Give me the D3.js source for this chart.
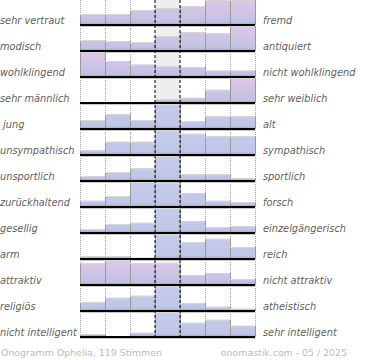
<!DOCTYPE html>
<html>
<head>
<meta charset="utf-8">
<script src="https://cdn.jsdelivr.net/npm/d3@7"></script>
<style>
  body { margin: 0; background: #fff; }
  text { font-family: "DejaVu Sans", sans-serif; white-space: pre; }
</style>
</head>
<body>
<div id="chart"></div>
<script>
// Data (bar height relative to the row maximum).
var leftLabels = ["sehr vertraut", "modisch", "wohlklingend", "sehr männlich", " jung", "unsympathisch",
  "unsportlich", "zurückhaltend", "gesellig", "arm", "attraktiv", "religiös", "nicht intelligent"];
var rightLabels = ["fremd", "antiquiert", "nicht wohlklingend", "sehr weiblich", "alt", "sympathisch",
  "sportlich", "forsch", "einzelgängerisch", "reich", "nicht attraktiv", "atheistisch", "sehr intelligent"];
var values = [
  [44, 44, 60, 68, 76, 100, 100],
  [44, 40, 36, 60, 76, 72, 100],
  [100, 64, 50, 42, 40, 26, 26],
  [4, 0, 0, 15, 21, 53, 100],
  [36, 59, 36, 100, 31, 51, 51],
  [19, 53, 53, 100, 85, 75, 75],
  [19, 36, 51, 100, 27, 27, 11],
  [25, 44, 100, 96, 56, 25, 20],
  [16, 36, 41, 100, 48, 23, 28],
  [11, 11, 5, 100, 68, 81, 48],
  [88, 100, 88, 88, 40, 48, 24],
  [36, 53, 61, 100, 32, 17, 9],
  [12, 0, 17, 100, 57, 69, 45]
];
var footerLeft = "Onogramm Ophelia, 119 Stimmen";
var footerRight = "onomastik.com - 05 / 2025";

// Layout parameters.
var svgWidth = 370;
var svgHeight = 360;
var barMax = 25;

var svg = d3.select("#chart")
  .append("svg")
  .attr("width", svgWidth)
  .attr("height", svgHeight);

var x = d3.scaleBand()
  .domain(d3.range(7))
  .range([80, 255]);

var row = d3.scaleBand()
  .domain(d3.range(leftLabels.length))
  .range([-1, 337]);

var bottom = row.range()[1];
var base = i => row(i) + row.bandwidth();

// Gradients, one per row (pinkish top where the row peaks off-centre).
var defs = svg.append("defs");
values.forEach(function(v, i) {
  var peak = v.indexOf(d3.max(v));
  var pink = peak < 2 || peak > 4;
  var g = defs.append("linearGradient")
    .attr("id", "g" + i)
    .attr("gradientUnits", "userSpaceOnUse")
    .attr("x1", 0).attr("x2", 0)
    .attr("y1", base(i) - barMax).attr("y2", base(i));
  g.append("stop").attr("offset", "0").attr("stop-color", pink ? "#e0c6e6" : "#c6cdeb");
  g.append("stop").attr("offset", "0.88").attr("stop-color", pink ? "#c0c2e4" : "#bfc5e6");
  g.append("stop").attr("offset", "1").attr("stop-color", "#a89cca");
});

// Centre column background.
svg.append("rect")
  .attr("x", x(3))
  .attr("y", 0)
  .attr("width", x.bandwidth())
  .attr("height", bottom)
  .attr("fill", "#eeeeee");

// Dotted column separators.
var edges = d3.range(8).map(k => x.range()[0] + k * x.step());
svg.selectAll(".dot")
  .data(edges.filter((e, k) => k != 3 && k != 4))
  .enter()
  .append("line")
  .attr("x1", d => d + 0.5).attr("x2", d => d + 0.5)
  .attr("y1", 0).attr("y2", bottom)
  .attr("stroke", "#a0a0a0")
  .attr("stroke-dasharray", "1,1");

// Bars.
values.forEach(function(v, i) {
  var y = d3.scaleLinear().domain([0, d3.max(v)]).range([0, barMax]);
  var g = svg.append("g");
  var bars = v.map((d, j) => ({ j: j, h: y(d) })).filter(d => d.h > 0);

  g.selectAll("rect")
    .data(bars)
    .enter()
    .append("rect")
    .attr("x", d => x(d.j))
    .attr("y", d => base(i) - d.h)
    .attr("width", x.bandwidth())
    .attr("height", d => d.h)
    .attr("fill", "url(#g" + i + ")");

  g.selectAll(".side")
    .data(bars)
    .enter()
    .append("path")
    .attr("d", d => `M${x(d.j) + 0.5},${base(i)}V${base(i) - d.h}M${x(d.j) + x.bandwidth() + 0.5},${base(i) - d.h}V${base(i)}`)
    .attr("stroke", "#999")
    .attr("fill", "none");

  g.selectAll(".top")
    .data(bars)
    .enter()
    .append("line")
    .attr("x1", d => x(d.j)).attr("x2", d => x(d.j) + x.bandwidth())
    .attr("y1", d => base(i) - d.h + 0.5).attr("y2", d => base(i) - d.h + 0.5)
    .attr("stroke", "#d6d6d6");

  // Baseline with a soft shadow.
  svg.append("line")
    .attr("x1", 80).attr("x2", 256)
    .attr("y1", base(i) + 1.5).attr("y2", base(i) + 1.5)
    .attr("stroke", "#c8c8c8");
  svg.append("line")
    .attr("x1", 80).attr("x2", 255)
    .attr("y1", base(i)).attr("y2", base(i))
    .attr("stroke", "#000")
    .attr("stroke-width", 2);
});

// Dashed lines around the neutral column.
svg.selectAll(".dash")
  .data([edges[3], edges[4]])
  .enter()
  .append("line")
  .attr("x1", d => d).attr("x2", d => d)
  .attr("y1", 0).attr("y2", bottom)
  .attr("stroke", "#000")
  .attr("stroke-dasharray", "3,2");

// Labels.
svg.selectAll(".left")
  .data(leftLabels)
  .enter()
  .append("text")
  .attr("x", 0)
  .attr("y", (d, i) => base(i) - 1.5)
  .attr("font-size", "9.8px")
  .attr("font-style", "italic")
  .attr("fill", "#606060")
  .text(d => d);

svg.selectAll(".right")
  .data(rightLabels)
  .enter()
  .append("text")
  .attr("x", 263)
  .attr("y", (d, i) => base(i) - 1.5)
  .attr("font-size", "9.8px")
  .attr("font-style", "italic")
  .attr("fill", "#606060")
  .text(d => d);

// Footer.
svg.append("text")
  .attr("x", 1)
  .attr("y", 356)
  .attr("font-size", "9.4px")
  .attr("fill", "#bbb")
  .text(footerLeft);

svg.append("text")
  .attr("x", 347)
  .attr("y", 356)
  .attr("text-anchor", "end")
  .attr("font-size", "9.4px")
  .attr("fill", "#bbb")
  .text(footerRight);
</script>
</body>
</html>
